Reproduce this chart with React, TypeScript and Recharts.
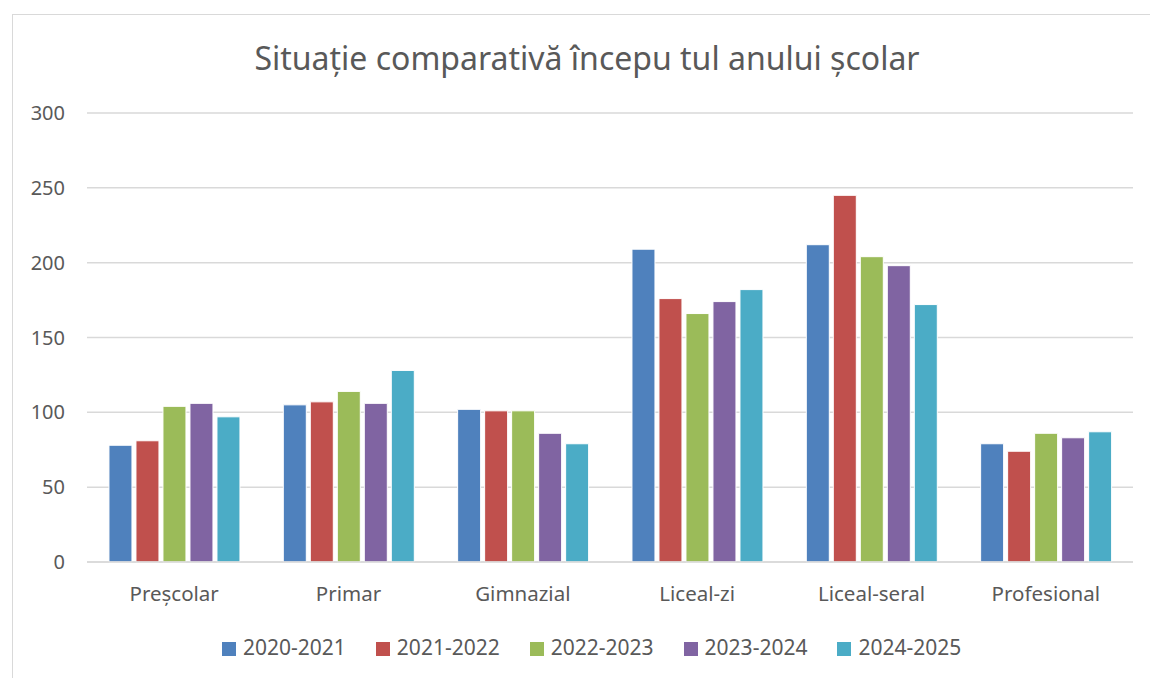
import * as React from 'react';
import { Bar, BarChart, CartesianGrid, Legend, XAxis, YAxis } from 'recharts';

const categories = ['Preșcolar', 'Primar', 'Gimnazial', 'Liceal-zi', 'Liceal-seral', 'Profesional'];
const years = ['2020-2021', '2021-2022', '2022-2023', '2023-2024', '2024-2025'];
const y2020 = [78, 105, 102, 209, 212, 79];
const y2021 = [81, 107, 101, 176, 245, 74];
const y2022 = [104, 114, 101, 166, 204, 86];
const y2023 = [106, 106, 86, 174, 198, 83];
const y2024 = [97, 128, 79, 182, 172, 87];
const yTicks = [0, 50, 100, 150, 200, 250, 300];

const COLOURS = ['#4F81BD', '#C0504D', '#9BBB59', '#8064A2', '#4BACC6'];
const FONT = '"Noto Sans", sans-serif';

const series = [y2020, y2021, y2022, y2023, y2024];
const data = categories.map((name, i) => {
  const row: Record<string, string | number> = { name };
  years.forEach((y, k) => {
    row[y] = series[k][i];
  });
  return row;
});

export default function App(): React.ReactElement {
  return (
    <div
      style={{
        position: 'absolute',
        left: 0,
        top: 0,
        width: 1150,
        height: 678,
        overflow: 'hidden',
        fontFamily: FONT,
        background: '#fff',
      }}
    >
      <div
        style={{
          position: 'absolute',
          left: 12,
          top: 14,
          width: 1138,
          height: 664,
          borderTop: '1px solid #d9d9d9',
          borderLeft: '1px solid #d9d9d9',
          boxSizing: 'border-box',
        }}
      />
      <div
        style={{
          position: 'absolute',
          left: 0,
          width: 1150,
          paddingLeft: 24,
          boxSizing: 'border-box',
          top: 36,
          textAlign: 'center',
          fontSize: 32,
          color: '#595959',
        }}
      >
        Situație comparativă începu tul anului școlar
      </div>
      <BarChart
        width={1150}
        height={678}
        data={data}
        margin={{ top: 113, right: 17, left: 0, bottom: 17 }}
        barCategoryGap="12.6%"
        barGap={4}
      >
        <CartesianGrid vertical={false} stroke="#d9d9d9" strokeWidth={1.5} />
        <XAxis
          dataKey="name"
          axisLine={{ stroke: '#d9d9d9', strokeWidth: 1.5 }}
          tickLine={false}
          height={71}
          tick={{ fontSize: 20.5, fill: '#595959', fontFamily: FONT }}
          tickMargin={18}
        />
        <YAxis
          width={87}
          domain={[0, 300]}
          ticks={yTicks}
          axisLine={false}
          tickLine={false}
          tick={{ fontSize: 20, fill: '#595959', fontFamily: FONT }}
          tickMargin={16}
        />
        <Legend
          verticalAlign="bottom"
          iconType="square"
          iconSize={14}
          wrapperStyle={{ fontSize: 21, fontFamily: FONT, left: 222, width: 'auto' }}
          formatter={(v: string) => (
            <span style={{ color: '#595959', marginLeft: 3, marginRight: 20 }}>{v}</span>
          )}
        />
        {years.map((y, k) => (
          <Bar
            key={y}
            dataKey={y}
            fill={COLOURS[k]}
            stroke="#ffffff"
            strokeWidth={1}
            isAnimationActive={false}
          />
        ))}
      </BarChart>
    </div>
  );
}
